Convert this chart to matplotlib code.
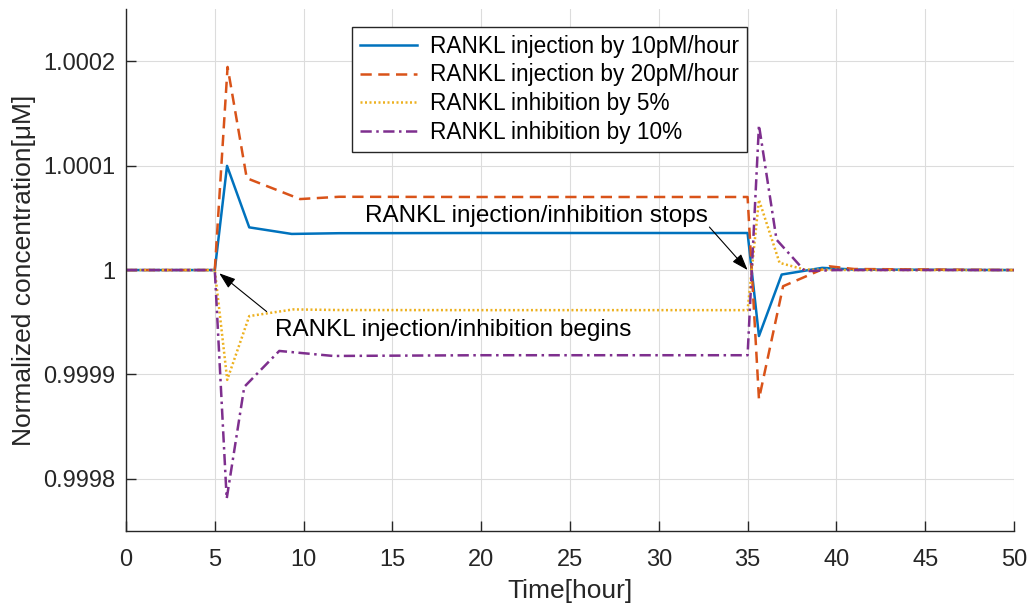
import matplotlib
matplotlib.use("Agg")
import matplotlib.pyplot as plt

plt.rcParams['font.family'] = ['Liberation Sans', 'DejaVu Sans']

# time [hour] and normalized concentration for each scenario
t_inj10 = [0, 5, 5.69, 6.94, 9.33, 12, 20, 35, 35.64, 36.92, 39.2, 41, 50]
c_inj10 = [1, 1, 1.0000998, 1.0000409, 1.0000346, 1.0000353, 1.0000355, 1.0000355,
           0.9999368, 0.9999957, 1.0000021, 1.0000005, 1]

t_inj20 = [0, 5, 5.72, 6.8, 9.8, 12, 20, 35, 35.64, 37.0, 39.6, 41, 50]
c_inj20 = [1, 1, 1.0001946, 1.000088, 1.000068, 1.0000702, 1.00007, 1.00007,
           0.9998764, 0.9999845, 1.0000036, 1.000001, 1]

t_inh5 = [0, 5, 5.7, 6.94, 9.42, 12, 20, 35, 35.64, 36.8, 38.2, 41, 50]
c_inh5 = [1, 1, 0.9998948, 0.9999559, 0.9999623, 0.9999617, 0.9999616, 0.9999616,
          1.0000673, 1.0000069, 1.0000005, 1, 1]

t_inh10 = [0, 5, 5.67, 6.66, 8.63, 11.67, 20, 35, 35.64, 36.63, 38.23, 40, 50]
c_inh10 = [1, 1, 0.9997809, 0.9998881, 0.9999225, 0.9999177, 0.9999184, 0.9999184,
           1.0001389, 1.0000291, 0.9999989, 1, 1]

labels = ['RANKL injection by 10pM/hour', 'RANKL injection by 20pM/hour',
          'RANKL inhibition by 5%', 'RANKL inhibition by 10%']
colors = ['#0072BD', '#D95319', '#EDB120', '#7E2F8E']

x_ticks = [0, 5, 10, 15, 20, 25, 30, 35, 40, 45, 50]
y_ticks = [0.9998, 0.9999, 1.0, 1.0001, 1.0002]
y_ticklabels = ['0.9998', '0.9999', '1', '1.0001', '1.0002']

fig = plt.figure(figsize=(10.31, 6.07), dpi=100)
ax = fig.add_axes([0.1222, 0.1252, 0.8613, 0.8598])

lw = 1.8
ax.plot(t_inj10, c_inj10, '-', color=colors[0], lw=lw, label=labels[0])
ax.plot(t_inj20, c_inj20, '--', color=colors[1], lw=lw, dashes=(4.5, 2.6), label=labels[1])
ax.plot(t_inh5, c_inh5, ':', color=colors[2], lw=lw, dashes=(0.8, 1.0), label=labels[2])
ax.plot(t_inh10, c_inh10, '-.', color=colors[3], lw=lw, dashes=(4.5, 1.8, 1.0, 1.8), label=labels[3])

ax.set_xlim(0, 50)
ax.set_ylim(0.99975, 1.00025)
ax.set_xticks(x_ticks)
ax.set_yticks(y_ticks)
ax.set_yticklabels(y_ticklabels)
ax.grid(True, color='#dcdcdc', lw=0.8)
ax.set_axisbelow(True)

for s in ['top', 'right']:
    ax.spines[s].set_visible(False)
for s in ['left', 'bottom']:
    ax.spines[s].set_color('#262626')
    ax.spines[s].set_linewidth(1.0)
ax.tick_params(direction='in', length=7, width=1.0, colors='#262626', labelsize=17)
ax.tick_params(axis='y', pad=8)
ax.tick_params(axis='x', pad=13)

ax.set_xlabel('Time[hour]', fontsize=19, color='#262626', labelpad=6)
ax.set_ylabel('Normalized concentration[\u03bcM]', fontsize=19, color='#262626', labelpad=5)

# annotations with arrows
ax.annotate('', xy=(35.0, 1.0), xytext=(32.85, 1.0000412),
            arrowprops=dict(arrowstyle='-|>,head_length=1.0,head_width=0.35',
                            color='black', lw=0.8, shrinkA=0, shrinkB=0))
ax.text(13.46, 1.0000462, 'RANKL injection/inhibition stops', fontsize=17.5,
        va='baseline', ha='left')

ax.annotate('', xy=(5.25, 0.9999969), xytext=(7.92, 0.9999602),
            arrowprops=dict(arrowstyle='-|>,head_length=1.0,head_width=0.35',
                            color='black', lw=0.8, shrinkA=0, shrinkB=0))
ax.text(8.39, 0.9999368, 'RANKL injection/inhibition begins', fontsize=17.5,
        va='baseline', ha='left')

leg = ax.legend(loc='upper left', bbox_to_anchor=(0.2545, 0.966), borderaxespad=0,
                fontsize=16.3, handlelength=2.5, handletextpad=0.6,
                labelspacing=0.25, fancybox=False, framealpha=1,
                edgecolor='#262626', borderpad=0.35)
leg.get_frame().set_linewidth(1.0)

fig.savefig('out.png', dpi=100)
